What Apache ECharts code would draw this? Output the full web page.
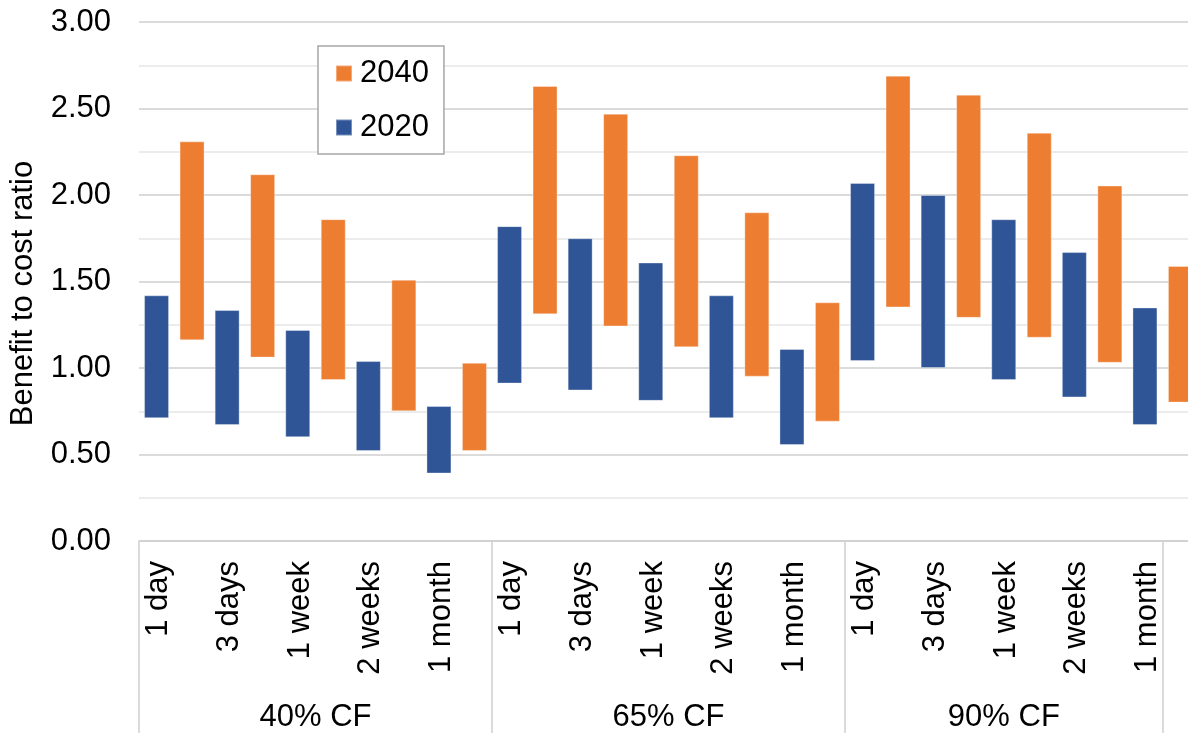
<!DOCTYPE html>
<html>
<head>
<meta charset="utf-8">
<title>Benefit to cost ratio</title>
<script src="https://cdn.jsdelivr.net/npm/echarts@6/dist/echarts.min.js"></script>
<style>
  html, body { margin: 0; padding: 0; background: #fff; }
  #chart { width: 1188px; height: 733px; }
</style>
</head>
<body>
<div id="chart"></div>
<script>
// Storage durations, repeated for each capacity-factor group
const durations = ['1 day', '3 days', '1 week', '2 weeks', '1 month'];
const groups = ['40% CF', '65% CF', '90% CF'];

// Benefit-to-cost ratio ranges (low / high) per duration, groups in order
const low2020  = [0.71, 0.67, 0.60, 0.52, 0.39,  0.91, 0.87, 0.81, 0.71, 0.555,  1.04, 1.00, 0.93, 0.83, 0.67];
const high2020 = [1.42, 1.335, 1.22, 1.04, 0.78, 1.82, 1.75, 1.61, 1.42, 1.11,   2.07, 2.00, 1.86, 1.67, 1.35];
const low2040  = [1.16, 1.06, 0.93, 0.75, 0.52,  1.31, 1.24, 1.12, 0.95, 0.69,   1.35, 1.29, 1.175, 1.03, 0.80];
const high2040 = [2.31, 2.12, 1.86, 1.51, 1.03,  2.63, 2.47, 2.23, 1.90, 1.38,   2.69, 2.58, 2.36, 2.055, 1.59];

// y-axis ticks
const yMin = 0, yMax = 3, yStep = 0.5;

const categories = [];
groups.forEach(() => durations.forEach(d => categories.push(d)));

const BLUE = '#2F5597';
const ORANGE = '#ED7D31';
const GRID_GRAY = '#cfcfcf';
const FONT = 'Liberation Sans, Arial, sans-serif';
const FS = 31;

// group boundaries on a 0..N scale (N = number of categories); the last
// separator sits in the middle of the final category
const n = categories.length;
const groupEdges = [0, durations.length, 2 * durations.length, n - 0.5];
const groupLabelPos = groups.map((g, i) => (groupEdges[i] + groupEdges[i + 1]) / 2);

const span = (lo, hi) => hi.map((h, i) => +(h - lo[i]).toFixed(4));

function baseSeries(name, stack, data) {
  return {
    name, type: 'bar', stack, data,
    barWidth: 25, barGap: '42%',
    itemStyle: { color: 'transparent' },
    silent: true, emphasis: { disabled: true }
  };
}
function rangeSeries(name, stack, data, color) {
  return {
    name, type: 'bar', stack, data,
    barWidth: 25, barGap: '42%',
    itemStyle: { color, borderColor: 'rgba(255,255,255,0.35)', borderWidth: 1 }
  };
}

const chart = echarts.init(document.getElementById('chart'), null, { renderer: 'canvas' });
chart.setOption({
  animation: false,
  backgroundColor: '#fff',
  textStyle: { fontFamily: FONT },
  grid: { left: 139, top: 22, right: -10, bottom: 192, containLabel: false, outerBoundsMode: 'none' },
  legend: {
    data: ['2040', '2020'],
    orient: 'vertical',
    left: 318, top: 46,
    padding: [12, 15, 11, 17],
    itemGap: 23,
    itemWidth: 16, itemHeight: 16,
    icon: 'rect',
    borderColor: '#a6a6a6', borderWidth: 1.5,
    backgroundColor: '#fff',
    textStyle: { fontSize: FS, color: '#000', fontFamily: FONT, padding: [0, 0, 0, 3] }
  },
  xAxis: [
    {
      type: 'category',
      data: categories,
      position: 'bottom',
      axisLine: { show: true, lineStyle: { color: GRID_GRAY, width: 1.5 } },
      axisTick: { show: false },
      axisLabel: {
        interval: 0, rotate: 90, margin: 20,
        verticalAlign: 'bottom',
        fontSize: FS, color: '#000', fontFamily: FONT
      },
      splitLine: { show: false }
    },
    {
      type: 'value',
      position: 'bottom',
      min: 0, max: n,
      axisLine: { show: false },
      splitLine: { show: false },
      axisTick: {
        show: true, length: 192,
        customValues: groupEdges,
        lineStyle: { color: GRID_GRAY, width: 1.5 }
      },
      axisLabel: {
        customValues: groupLabelPos,
        formatter: v => groups[groupLabelPos.indexOf(v)] || '',
        margin: 161, fontSize: FS, color: '#000', fontFamily: FONT
      }
    }
  ],
  yAxis: {
    type: 'value',
    min: yMin, max: yMax, interval: yStep,
    name: 'Benefit to cost ratio',
    nameLocation: 'middle',
    nameGap: 100,
    nameTextStyle: { fontSize: FS, color: '#000', fontFamily: FONT, padding: [0, 24, 0, 0] },
    axisLine: { show: false },
    axisTick: { show: false },
    axisLabel: { formatter: v => v.toFixed(2), fontSize: FS, color: '#000', margin: 28, fontFamily: FONT },
    splitLine: { show: true, lineStyle: { color: GRID_GRAY, width: 1.5 } },
    minorTick: { show: false, splitNumber: 2 },
    minorSplitLine: { show: true, lineStyle: { color: '#ececec', width: 2 } }
  },
  series: [
    baseSeries('base2020', 'y2020', low2020),
    rangeSeries('2020', 'y2020', span(low2020, high2020), BLUE),
    baseSeries('base2040', 'y2040', low2040),
    rangeSeries('2040', 'y2040', span(low2040, high2040), ORANGE)
  ]
});
</script>
</body>
</html>
